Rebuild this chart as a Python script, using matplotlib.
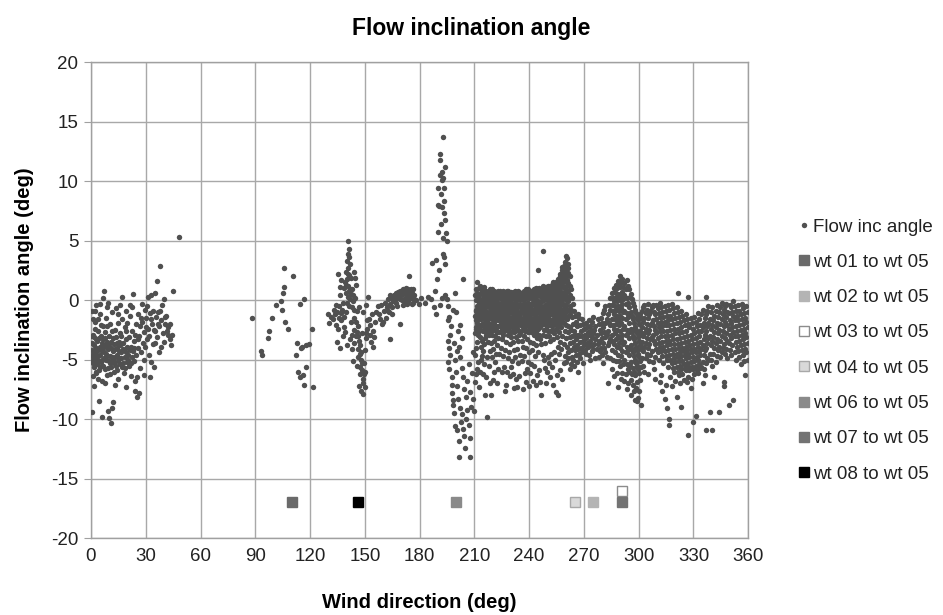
import matplotlib
matplotlib.use('Agg')
import matplotlib.pyplot as plt

plt.rcParams['font.family'] = ['Liberation Sans', 'DejaVu Sans']
plt.rcParams['axes.unicode_minus'] = False

# ---- flow inclination angle readings, (wind direction, angle) ----
north_pts = [
    (0.3, -4.2), (0.5, -5.1), (0.8, -3.6), (1.0, -4.8), (1.2, -2.9), (1.4, -5.6), (1.6, -4.4), (1.9, -3.1),
    (2.1, -5.0), (2.3, -1.8), (2.5, -4.0), (2.8, -6.1), (0.6, -0.9), (1.1, -1.6), (2.0, -2.4), (0.4, -9.4),
    (2.6, -0.4), (1.7, -7.2), (3.1, -4.7), (3.3, -3.4), (3.5, -5.4), (3.8, -2.6), (4.0, -4.1), (4.2, -8.5),
    (4.4, -5.9), (4.7, -3.9), (5.0, -4.6), (5.2, -1.2), (5.4, -3.0), (5.7, -5.2), (5.9, -9.8), (4.9, -0.3),
    (3.6, -6.6), (5.5, -2.1), (6.1, -4.3), (6.3, -5.5), (6.6, -3.3), (6.8, 0.2), (7.0, -4.9), (7.3, 0.8),
    (7.5, -2.7), (7.7, -5.8), (8.0, -3.8), (8.2, -1.5), (8.4, -4.5), (8.7, -6.3), (8.9, -0.6), (6.4, -2.2),
    (7.9, -7.0), (9.1, -9.3), (9.3, -4.1), (9.6, -3.0), (9.8, -5.1), (10.0, -9.9), (10.3, -2.0), (10.5, -4.7),
    (10.8, -10.3), (11.0, -3.5), (11.2, -5.6), (11.5, -9.1), (11.7, -1.0), (12.0, -4.3), (12.2, -8.6),
    (10.6, -6.2), (9.4, -0.2), (12.4, -3.7), (12.7, -5.3), (13.0, -2.5), (13.2, -4.8), (13.5, -0.7),
    (13.8, -3.1), (14.0, -5.9), (14.3, -4.0), (14.6, -1.9), (14.8, -6.6), (15.1, -3.5), (15.4, -4.9),
    (15.7, -2.8), (16.0, -0.4), (13.3, -7.1), (15.9, -5.4), (16.3, -4.4), (16.6, -3.0), (16.9, -5.6),
    (17.2, -1.6), (17.5, -4.1), (17.8, -3.6), (18.1, -6.1), (18.4, -2.3), (18.7, -4.8), (19.0, -0.9),
    (19.3, -3.3), (19.6, -5.2), (19.9, -1.9), (17.0, 0.3), (18.9, -7.3), (20.2, -4.6), (20.6, -3.1),
    (21.0, -5.5), (21.3, -1.3), (21.7, -3.9), (22.0, -6.4), (22.4, -2.6), (22.8, -4.3), (23.1, 0.5),
    (23.5, -3.4), (23.8, -5.1), (24.2, -6.8), (24.6, -2.0), (25.0, -8.1), (24.0, -7.6), (25.3, -6.5),
    (22.6, -0.6), (25.7, -4.0), (26.0, -1.2), (26.4, -3.0), (26.8, -5.7), (27.1, -2.2), (27.5, -4.4),
    (27.9, -0.3), (28.2, -1.8), (28.6, -3.6), (29.0, -5.0), (29.3, -2.7), (29.7, -0.8), (26.2, -7.8),
    (28.8, -6.3), (30.1, -1.5), (30.5, -3.3), (30.9, -0.5), (31.3, -2.4), (31.7, -4.6), (32.1, -1.1),
    (32.5, -6.5), (32.9, 0.4), (33.3, -2.0), (33.7, -3.7), (34.1, -0.9), (34.5, -5.6), (34.9, 0.6),
    (35.3, -2.6), (35.7, -1.4), (31.0, 0.3), (33.0, -5.2), (36.1, 1.6), (36.4, -3.1), (36.8, -1.0),
    (37.2, -2.2), (37.8, 2.9), (38.2, -3.9), (38.6, -1.7), (39.0, -0.4), (39.5, -2.8), (40.0, -3.5),
    (40.6, -2.0), (41.2, -1.3), (41.8, -2.6), (42.4, -2.3), (43.0, -3.3), (43.6, -3.8), (44.2, -2.9),
    (45.0, 0.8), (48.4, 5.3), (37.0, -4.4), (39.8, 0.1),
    (0.2, -3.0), (0.7, -4.6), (1.3, -5.3), (1.8, -3.8), (2.2, -4.5), (2.9, -3.3), (3.4, -4.3), (3.9, -5.0),
    (4.5, -3.2), (4.8, -5.6), (5.3, -4.0), (5.8, -3.6), (6.2, -5.0), (6.9, -3.9), (7.2, -4.4), (7.6, -3.2),
    (8.1, -5.0), (8.6, -3.5), (9.0, -4.7), (9.5, -5.7), (9.9, -3.7), (10.4, -5.3), (10.9, -4.0), (11.4, -4.8),
    (11.9, -3.2), (12.3, -5.0), (12.9, -4.1), (13.6, -5.5), (14.1, -3.6), (14.5, -4.6), (15.0, -5.1),
    (15.6, -4.3), (16.1, -3.8), (16.7, -4.9), (17.3, -5.3), (17.9, -4.2), (18.5, -5.7), (19.1, -4.4),
    (19.7, -3.9), (20.4, -5.0), (21.1, -4.2), (21.8, -5.3), (22.5, -4.8), (23.3, -4.0), (23.9, -2.9),
    (24.4, -4.6), (0.9, -6.4), (3.0, -6.0), (6.0, -6.8), (12.5, -6.0), (2.4, -0.9), (4.1, -1.6), (8.5, -2.2),
    (11.3, -2.6), (14.9, -1.2), (19.4, -2.6), (21.5, -0.4), (25.5, -3.3), (27.3, -1.5), (29.5, -3.9),
    (30.3, -2.3), (31.9, -3.0), (32.7, -1.6), (34.3, -2.5), (35.0, -3.6), (36.5, -2.0), (38.0, -0.9),
    (40.3, -1.4), (42.0, -2.9), (43.3, -2.0),
]

east_pts = [
    (88.0, -1.5), (93.0, -4.3), (93.8, -4.6), (97.5, -2.6), (97.2, -3.2), (99.0, -1.5), (103.8, -0.1),
    (104.5, -0.8), (105.8, 2.7), (105.5, 1.1), (105.3, 0.6), (106.0, -1.8), (108.0, -2.4), (110.9, 2.0),
    (112.6, -3.6), (112.3, -4.6), (113.5, -6.0), (114.2, -6.5), (114.6, -0.3), (115.5, -3.9), (116.0, -6.3),
    (116.4, 0.1), (116.8, -7.1), (117.5, -3.8), (118.0, -5.6), (119.5, -3.7), (121.0, -2.4), (121.5, -7.3),
    (115.0, -4.0), (101.5, -0.4),
]

southeast_pts = [
    (141.0, 5.0), (141.2, 4.3), (140.6, 3.9), (141.5, 3.6), (140.2, 3.3), (141.8, 3.0), (140.9, 2.7),
    (139.6, 2.4), (141.3, 2.1), (140.4, 1.8), (139.2, 1.5), (140.8, 1.2), (141.6, 0.9), (139.9, 0.6),
    (140.5, 0.3), (138.8, 1.0), (142.2, 1.9), (142.6, 0.5), (137.0, 1.7), (136.2, 1.1), (135.5, 2.2),
    (138.0, -0.2), (137.5, -0.8), (136.0, -0.5), (134.8, -1.0), (133.5, -1.2), (132.8, -1.6), (134.0, -2.1),
    (135.2, -2.4), (133.0, -0.8), (131.5, -1.4), (130.6, -1.9), (129.8, -1.2), (136.8, -1.7), (138.6, -2.3),
    (139.5, -1.0), (143.0, -0.6), (143.8, -1.5), (144.5, 1.9), (145.2, 1.3), (144.0, 2.4), (143.3, -0.1),
    (145.8, -0.9), (146.2, -2.2), (145.0, -3.0), (144.2, -3.6), (146.8, -3.4), (147.2, -4.5), (146.5, -4.1),
    (147.8, -5.0), (148.3, -5.9), (147.5, -6.2), (148.8, -6.6), (149.2, -7.0), (148.0, -7.6), (149.6, -5.3),
    (150.2, -4.2), (150.8, -3.2), (151.4, -2.4), (152.0, -1.6), (152.6, -2.9), (153.4, -3.5), (154.2, -2.6),
    (155.0, -3.1), (155.6, -1.8), (149.0, -1.0), (150.4, -0.4), (151.8, 0.3), (148.5, -2.8), (142.8, -4.1),
    (141.9, -3.3), (140.0, -3.8), (137.8, -3.0), (136.5, -4.0), (134.5, -3.5), (143.6, -5.1), (145.5, -5.5),
    (146.9, -7.2), (150.0, -6.0), (156.2, -1.0), (157.0, -0.5), (139.0, -2.7), (144.8, 0.2), (147.0, -0.6),
    (140.7, 2.2), (139.8, 1.3), (141.1, 0.8), (142.0, 0.1), (141.4, -0.5), (140.3, -0.2), (142.9, 0.9),
    (143.6, 0.4), (144.3, -0.8), (145.1, -1.8), (145.9, -2.7), (146.4, -3.0), (147.6, -3.8), (146.0, -4.8),
    (148.1, -4.4), (147.1, -5.6), (148.6, -5.3), (149.4, -6.2), (149.9, -7.3), (148.9, -7.9), (138.3, -1.4),
    (137.2, -1.1), (136.6, 0.4), (135.8, -1.5), (134.2, -0.4), (144.0, -2.5), (142.4, -1.8), (143.1, -2.9),
    (151.1, -1.7), (152.9, -2.1), (153.8, -1.2), (154.6, -3.9), (150.6, -2.8),
]

south_pts = [
    (157.5, -1.2), (158.3, -1.6), (159.2, -2.0), (160.0, -1.8), (158.8, -0.4), (160.5, -0.9), (161.3, -0.2),
    (162.0, -0.6), (162.8, 0.1), (163.5, -0.3), (164.0, -3.3), (164.5, 0.2), (165.2, -0.1), (165.8, 0.4),
    (166.3, 0.0), (166.9, 0.6), (167.4, 0.2), (168.0, 0.7), (168.5, 0.3), (169.0, -2.0), (169.3, 0.8),
    (169.8, 0.4), (170.2, 0.0), (170.7, 0.9), (171.1, 0.5), (171.6, 0.1), (172.0, 0.7), (172.5, 1.0),
    (172.9, 0.3), (173.3, 0.6), (173.8, -0.1), (174.2, 0.8), (174.0, 2.0), (174.7, 0.4), (175.1, 0.9),
    (175.6, 0.2), (176.0, 0.6), (176.5, -0.2), (177.0, 0.4), (167.8, -0.5), (170.9, -0.4), (165.0, -1.2),
    (163.0, -1.0), (178.0, 0.0), (179.5, -0.3), (181.0, 0.2), (161.6, -1.5),
    (166.6, 0.3), (167.1, -0.2), (168.3, 0.5), (169.5, 0.1), (170.4, 0.6), (171.3, 0.8), (171.9, -0.2),
    (172.7, 0.5), (173.5, 0.9), (174.4, 0.1), (175.3, 0.5), (176.2, 0.9), (176.8, 0.1), (175.8, -0.3),
    (173.0, -0.3), (164.8, -0.6), (163.8, 0.4), (162.4, -0.9),
]

peak_pts = [
    (193.0, 13.7), (191.0, 12.3), (191.4, 11.8), (192.2, 10.8), (192.8, 10.3), (190.0, 9.4), (192.5, 10.1),
    (193.2, 9.4), (189.8, 8.0), (190.8, 7.9), (192.0, 7.8), (193.6, 8.3), (193.4, 7.3), (194.0, 6.7),
    (190.2, 5.7), (194.6, 5.6), (194.9, 5.0), (192.6, 3.9), (193.1, 3.6), (194.0, 3.0), (189.0, 3.4),
    (190.6, 2.5), (189.6, 1.8), (188.5, 0.8), (187.0, 3.1), (204.0, 1.8), (191.5, 6.4), (192.9, 5.2),
    (191.8, 8.9), (193.8, 11.2), (190.9, 10.5), (186.0, 0.1), (184.5, 0.3), (183.0, -0.2), (187.8, -0.6),
    (189.0, -1.2), (191.0, -0.4), (192.5, 0.2), (194.0, 0.4), (195.0, 0.1), (195.6, -0.5), (196.2, -1.4),
    (195.8, -1.7), (196.5, -2.9), (195.4, -3.4), (196.0, -4.0), (196.8, -4.6), (195.7, -5.2), (196.3, -5.8),
    (197.5, -6.5), (198.0, -7.1), (197.8, -7.8), (198.5, -8.4), (198.2, -8.8), (199.0, -9.5), (199.5, -10.6),
    (200.3, -10.9), (201.8, -11.8), (201.6, -13.2), (197.2, -2.2), (198.8, -3.6), (199.4, -5.0), (200.0, -6.0),
    (200.6, -7.2), (201.2, -8.3), (201.9, -9.1), (202.5, -10.2), (203.1, -9.6), (203.8, -10.8), (204.5, -11.4),
    (205.0, -12.4), (205.6, -10.0), (206.2, -9.2), (206.9, -10.5), (207.4, -11.6), (207.8, -13.2), (208.3, -9.0),
    (209.2, -8.3), (210.0, -9.3), (217.0, -9.8), (199.8, -1.0), (200.8, -2.6), (201.5, -3.9), (202.3, -4.8),
    (203.0, -5.7), (203.7, -6.5), (204.3, -7.5), (205.2, -8.1), (206.0, -6.8), (206.8, -5.4), (207.5, -7.7),
    (208.6, -6.1), (209.5, -4.4), (198.4, -0.8), (199.2, 0.6), (200.5, -4.3), (202.0, -2.1), (203.4, -3.2),
]

# columns: (wind direction, [angles read at that direction])
west_cols = [
    (210.5, [0.4, -1.3, -2.8, -4.6, -6.9]), (211.6, [1.5, -0.5, -1.9, -3.5, -5.8]),
    (212.4, [1.0, -0.2, -1.1, -2.4, -7.3]), (213.5, [0.6, -0.8, -2.1, -3.9, -5.0]),
    (214.7, [0.2, -1.5, -2.6, -4.3, -6.2]), (215.8, [0.7, -0.4, -1.8, -3.2, -8.0]),
    (216.9, [0.3, -1.0, -2.3, -4.8]), (218.0, [0.8, -0.1, -1.4, -2.9, -5.5]),
    (219.1, [0.5, -0.7, -2.0, -3.6, -8.0]), (220.3, [0.1, -1.2, -2.5, -4.1, -6.7]),
    (221.4, [0.6, -0.3, -1.7, -3.0, -5.2]), (222.6, [0.4, -0.9, -2.2, -3.8, -7.0]),
    (223.7, [0.7, -0.6, -1.5, -2.7, -4.5]), (224.9, [0.2, -1.1, -2.4, -3.3, -6.0]),
    (226.0, [0.5, -0.2, -1.3, -2.6, -5.6]), (227.2, [0.3, -0.8, -1.9, -3.5, -7.1]),
    (228.3, [0.6, -0.4, -1.6, -2.9, -4.9]), (229.5, [0.1, -1.0, -2.1, -3.7, -6.4]),
    (230.6, [0.4, -0.5, -1.4, -2.3, -5.1]), (231.8, [-0.2, -1.2, -2.7, -4.2, -7.4]),
    (232.9, [0.5, -0.7, -1.8, -3.1, -6.6]), (234.1, [0.2, -1.0, -2.0, -3.4, -5.3]),
    (235.2, [0.6, -0.3, -1.6, -2.8, -4.6]), (236.4, [0.0, -1.1, -2.5, -3.9, -7.5]),
    (237.5, [0.4, -0.6, -1.3, -2.6, -6.1]), (238.7, [0.7, -0.2, -1.7, -3.3, -5.8]),
    (239.8, [0.3, -0.9, -2.2, -4.4, -7.2]), (241.0, [0.8, -0.4, -1.5, -2.7, -5.4]),
    (242.1, [0.5, -0.8, -2.0, -3.6, -6.8]), (243.3, [0.9, -0.1, -1.2, -2.4, -4.7]),
    (244.4, [0.6, -0.6, -1.8, -3.2, -6.3]), (245.0, [2.5]),
    (245.6, [1.0, -0.3, -1.4, -2.9, -5.9]), (246.7, [0.7, -0.7, -2.1, -3.7, -8.0]),
    (247.8, [4.1]), (247.9, [1.1, 0.2, -1.0, -2.5, -5.0]),
    (249.0, [0.8, -0.5, -1.6, -3.0, -7.0]), (250.2, [1.2, 0.0, -1.3, -2.6, -4.8]),
    (251.3, [0.9, -0.4, -1.9, -3.4, -6.5]), (252.5, [1.3, 0.3, -0.9, -2.2, -5.6]),
    (253.6, [1.0, -0.2, -1.5, -2.8, -4.4]), (254.8, [1.5, 0.4, -0.8, -2.4, -7.7]),
    (255.9, [1.8, 0.6, -0.6, -2.0, -3.9, -8.0]), (257.1, [2.2, 1.0, -0.3, -1.7, -3.5, -5.9]),
    (258.2, [2.8, 1.4, 0.1, -1.3, -3.0, -6.6]), (259.4, [3.2, 1.9, 0.5, -1.0, -2.6, -4.7]),
    (260.1, [3.7, 2.5, 1.1, -0.4, -2.1, -5.2]), (260.6, [3.5, 1.7, 0.3, -1.6, -3.9]),
    (261.5, [2.3, 0.8, -0.8, -2.7, -4.4]), (262.6, [1.2, -0.5, -2.3, -3.6, -5.8]),
    (263.6, [0.2, -1.4, -3.0, -4.8]), (264.7, [-0.9, -2.6, -3.9, -5.5]),
    (265.8, [-1.8, -3.3, -4.6]), (266.9, [-1.2, -2.9, -4.1, -6.0]),
    (268.0, [-2.1, -3.5, -4.9]), (269.1, [-1.6, -3.0, -4.4]),
    (270.2, [-2.4, -3.8]), (271.3, [-1.9, -3.2, -4.5]),
    (272.4, [-2.7, -3.9]), (273.5, [-2.2, -3.4, -5.0]),
    (274.6, [-1.8, -3.1, -4.3]), (275.7, [-2.5, -3.7]),
    (277.0, [-0.3, -2.9, -4.1]), (278.2, [-2.0, -3.4, -4.8]),
    (279.4, [-1.5, -2.8, -4.0]), (280.6, [-1.1, -2.3, -3.6, -5.3]),
    (281.8, [-0.5, -1.9, -3.1, -4.4]), (283.0, [-7.0, -1.2, -2.6, -3.8]),
    (284.2, [0.2, -0.8, -2.1, -3.3, -4.9]),
    (211.0, [0.9, -0.8, -2.3, -4.0, -6.2]), (212.0, [0.2, -1.5, -2.9, -5.2]),
    (213.0, [1.2, -0.4, -1.6, -3.1, -6.0]), (214.1, [0.9, -0.3, -1.2, -3.4, -4.7]),
    (215.2, [1.1, -0.9, -2.2, -3.7, -5.4]), (216.3, [0.0, -1.4, -2.7, -6.5]),
    (217.4, [0.6, -0.5, -1.9, -3.5]), (218.5, [0.3, -1.0, -2.4, -4.3, -7.0]),
    (219.7, [0.9, -0.2, -1.6, -2.9, -4.8]), (220.8, [0.4, -0.8, -2.0, -3.4, -6.0]),
    (222.0, [0.0, -1.4, -2.6, -4.5]), (223.1, [0.8, -0.2, -1.2, -3.2, -5.8]),
    (224.3, [0.4, -0.9, -2.0, -4.0]), (225.4, [0.8, -0.5, -1.7, -2.9, -4.7]),
    (226.6, [0.1, -1.0, -2.2, -4.2, -7.6]), (227.7, [0.8, -0.3, -1.3, -2.5, -6.0]),
    (228.9, [0.4, -0.7, -2.3, -4.4]), (230.0, [0.7, -0.2, -1.8, -3.1, -5.6]),
    (231.2, [0.2, -0.9, -1.9, -3.5, -6.2]), (232.3, [0.8, -0.4, -1.5, -2.6, -4.8]),
    (233.5, [0.0, -1.3, -2.4, -4.1, -7.3]), (234.6, [0.7, -0.5, -1.4, -2.9, -6.4]),
    (235.8, [0.3, -0.8, -2.1, -3.4, -5.1]), (236.9, [0.8, -0.3, -1.8, -3.0, -4.7]),
    (238.1, [0.2, -0.9, -2.2, -4.0, -6.9]), (239.2, [0.9, -0.4, -1.3, -2.7, -5.2]),
    (240.4, [0.5, -0.7, -1.9, -3.5, -6.1]), (241.5, [0.2, -1.1, -2.4, -4.2]),
    (242.7, [0.9, -0.3, -1.5, -2.9, -5.5]), (243.8, [0.3, -0.9, -2.1, -3.8, -7.1]),
    (245.0, [0.8, -0.1, -1.0, -2.4, -4.4]), (246.1, [0.4, -1.0, -1.7, -3.3, -6.9]),
    (247.3, [1.2, 0.1, -1.3, -2.9, -4.6]), (248.4, [0.5, -0.8, -2.0, -3.6, -5.7]),
    (249.6, [1.0, 0.3, -0.9, -2.2, -6.0]), (250.7, [0.6, -0.7, -1.6, -3.0, -5.3]),
    (251.9, [1.1, 0.1, -1.2, -2.6, -4.5]), (253.0, [0.7, -0.5, -1.9, -3.3, -7.1]),
    (254.2, [1.3, 0.1, -1.1, -2.0, -5.0]), (255.3, [0.9, -0.2, -1.4, -3.1, -6.3]),
    (256.5, [1.4, 0.3, -1.0, -2.7, -4.5]), (257.6, [1.8, 0.6, -0.8, -2.3, -4.1]),
    (258.8, [2.3, 1.1, -0.4, -1.9, -3.7, -5.3]), (259.9, [2.9, 1.5, 0.0, -1.5, -3.2]),
    (261.0, [3.0, 1.3, -0.1, -2.2, -4.9]), (262.1, [2.0, 0.4, -1.2, -3.1]),
    (263.1, [0.9, -0.8, -2.5, -4.2, -5.4]), (264.2, [-0.3, -2.0, -3.5, -5.0]),
    (265.3, [-1.3, -2.9, -4.2]), (266.4, [-2.2, -3.8, -5.2]),
    (267.5, [-1.5, -3.0, -4.5]), (268.6, [-2.6, -4.0]),
    (269.7, [-2.0, -3.4, -5.3]), (270.8, [-2.9, -4.2]),
    (271.9, [-2.3, -3.6]), (273.0, [-1.7, -2.9, -4.6]),
    (274.1, [-2.5, -3.8]), (275.2, [-1.4, -2.8, -4.1]),
    (276.3, [-2.2, -3.3, -4.9]), (277.6, [-1.6, -3.7]),
    (278.8, [-2.5, -4.3]), (280.0, [-1.9, -3.2, -4.6]),
    (281.2, [-0.8, -2.7, -4.0]), (282.4, [-1.6, -2.9, -4.8]),
    (283.6, [-0.4, -1.9, -3.5]),
]

# densest part of the 210-262 deg block
west_core_cols = [
    (210.8, [0.0, -0.9, -1.7, -2.4]), (211.3, [0.6, -1.2, -2.6]), (211.9, [0.3, -0.9, -2.1]),
    (212.7, [0.5, -0.6, -1.5, -2.6]), (213.2, [0.0, -1.3, -2.4]), (213.8, [0.9, -0.3, -1.6]),
    (214.4, [0.5, -0.9, -2.0]), (215.0, [0.0, -1.1, -2.5]), (215.5, [0.6, -0.6, -1.4]),
    (216.1, [0.4, -1.0, -2.2]), (216.6, [0.8, -0.6, -1.7, -2.9]), (217.2, [0.1, -1.2, -2.5]),
    (217.7, [0.5, -0.3, -1.6]), (218.3, [0.9, -0.7, -2.0]), (218.8, [0.2, -1.2, -2.6]),
    (219.4, [0.7, -0.4, -1.4]), (219.9, [0.4, -1.0, -2.3]), (220.5, [0.8, -0.5, -1.8]),
    (221.1, [0.2, -1.0, -2.2]), (221.7, [0.7, -0.6, -1.4, -2.5]), (222.3, [0.1, -1.3, -2.7]),
    (222.9, [0.6, -0.4, -1.7]), (223.4, [0.3, -0.9, -2.2]), (224.0, [0.8, -0.3, -1.5]),
    (224.6, [0.5, -0.7, -1.9]), (225.1, [0.0, -1.3, -2.7]), (225.7, [0.6, -0.8, -1.6]),
    (226.3, [0.3, -1.0, -2.2]), (226.9, [0.7, -0.5, -1.4]), (227.5, [0.1, -1.1, -2.4]),
    (228.0, [0.5, -0.7, -1.8]), (228.6, [0.8, -0.2, -1.3, -2.5]), (229.2, [0.3, -0.8, -1.8]),
    (229.8, [0.6, -0.5, -1.5, -2.7]), (230.3, [0.1, -1.0, -2.0]), (230.9, [0.5, -0.8, -1.7]),
    (231.5, [0.7, -0.4, -1.5, -2.5]), (232.1, [0.2, -0.9, -2.1]), (232.6, [0.6, -0.3, -1.4]),
    (233.2, [0.3, -1.0, -2.2]), (233.8, [0.8, -0.6, -1.6]), (234.4, [0.4, -0.4, -1.3, -2.6]),
    (234.9, [0.1, -1.1, -2.0]), (235.5, [0.6, -0.6, -1.8]), (236.1, [0.4, -0.9, -2.2]),
    (236.7, [0.6, -0.5, -1.5]), (237.2, [0.1, -1.0, -2.4]), (237.8, [0.5, -0.3, -1.6]),
    (238.4, [0.9, -0.6, -2.0]), (239.0, [0.4, -1.1, -2.6]), (239.5, [0.6, -0.2, -1.5]),
    (240.1, [0.2, -0.8, -1.9]), (240.7, [0.7, -0.4, -1.2, -2.4]), (241.3, [0.4, -0.9, -2.0]),
    (241.8, [0.8, -0.2, -1.6]), (242.4, [0.2, -1.1, -2.4]), (243.0, [0.6, -0.5, -1.7]),
    (243.6, [1.0, -0.3, -1.4, -2.7]), (244.1, [0.4, -0.9, -2.1]), (244.7, [0.9, -0.2, -1.5]),
    (245.3, [0.5, -0.8, -1.9]), (245.9, [0.8, -0.4, -1.1, -2.3]), (246.4, [0.3, -0.9, -1.8]),
    (247.0, [0.9, -0.1, -1.5]), (247.6, [0.6, -0.6, -2.0]), (248.1, [1.0, 0.0, -1.2]),
    (248.7, [0.5, -0.4, -1.7]), (249.3, [1.1, 0.1, -1.1, -2.4]), (249.9, [0.7, -0.7, -1.9]),
    (250.4, [1.0, -0.2, -1.4]), (251.0, [0.6, -0.5, -2.1]), (251.6, [1.2, 0.2, -1.0]),
    (252.2, [0.8, -0.3, -1.7]), (252.7, [1.1, 0.0, -1.2, -2.5]), (253.3, [1.5, 0.5, -0.8]),
    (253.9, [0.8, -0.5, -1.8]), (254.5, [1.3, 0.1, -1.3]), (255.0, [1.0, -0.3, -1.7]),
    (255.6, [1.6, 0.4, -0.9, -2.3]), (256.2, [1.2, 0.0, -1.3]), (256.8, [2.0, 0.8, -0.5, -1.9]),
    (257.3, [1.5, 0.3, -1.1]), (257.9, [2.5, 1.2, -0.2, -1.6]), (258.5, [1.9, 0.6, -0.8]),
    (259.0, [2.9, 1.6, 0.2, -1.2]), (259.7, [2.2, 0.9, -0.6]), (260.4, [3.1, 2.0, 0.7, -0.9]),
    (261.2, [2.7, 1.4, 0.0, -1.3]),
]

northwest_cols = [
    (285.5, [0.6, -0.4, -1.6, -2.9, -4.2, -5.8]), (286.6, [1.0, -0.1, -1.2, -2.4, -3.7, -6.4]),
    (287.7, [1.3, 0.3, -0.8, -2.0, -3.3, -5.1]), (288.8, [1.6, 0.5, -0.5, -1.7, -3.0, -4.6, -7.3]),
    (290.0, [2.0, 1.1, 0.0, -1.3, -2.6, -4.0, -5.5]), (291.1, [1.8, 0.7, -0.3, -1.5, -2.9, -4.3, -6.1]),
    (292.2, [1.4, 0.4, -0.9, -2.2, -3.5, -5.0, -6.8]), (293.4, [1.7, 0.2, -1.1, -2.5, -3.9, -5.4, -7.5]),
    (294.5, [0.9, -0.6, -1.9, -3.2, -4.6, -6.0]), (295.6, [0.5, -1.0, -2.4, -3.8, -5.2, -6.7, -8.0]),
    (296.7, [-0.2, -1.6, -3.0, -4.4, -5.7, -7.1]), (297.9, [-0.8, -2.3, -3.6, -5.0, -6.3, -8.4]),
    (299.0, [-1.4, -2.8, -4.2, -5.5, -6.9, -8.5]), (300.1, [-2.0, -3.4, -4.8, -6.1, -7.6]),
    (301.3, [-1.5, -2.9, -4.1, -5.6, -8.8]), (302.5, [-0.6, -1.8, -3.0, -4.3, -5.5]),
    (303.8, [-1.1, -2.4, -3.6, -4.9]), (305.1, [-0.3, -1.5, -2.8, -4.0, -6.2]),
    (306.4, [-0.9, -2.1, -3.3, -4.6]), (307.7, [-0.4, -1.7, -2.9, -5.2]),
    (309.0, [-1.2, -2.5, -3.7, -4.8, -6.6]), (310.3, [-0.7, -1.9, -3.2, -4.4]),
    (311.6, [-0.2, -1.4, -2.6, -3.9, -6.9]), (312.9, [-1.0, -2.2, -3.5, -4.7, -7.6]),
    (314.2, [-0.5, -1.8, -3.0, -4.3, -8.3]), (315.5, [-1.3, -2.6, -3.8, -5.0, -9.1]),
    (316.8, [-0.8, -2.1, -3.4, -4.6, -10.0, -10.5]), (318.1, [-0.3, -1.6, -2.9, -4.1, -5.3, -7.2]),
    (319.4, [-1.1, -2.4, -3.7, -4.9, -6.0]), (320.7, [-0.6, -1.9, -3.3, -4.5, -5.6, -8.1]),
    (321.5, [0.6]), (322.0, [-1.4, -2.8, -4.0, -5.1, -6.3]),
    (323.3, [-0.9, -2.3, -3.6, -4.7, -5.8, -9.0]), (324.6, [-1.7, -3.1, -4.3, -5.4, -6.7]),
    (325.9, [-1.2, -2.6, -3.9, -4.9, -5.9]), (327.0, [0.3, -11.3]),
    (327.2, [-2.0, -3.4, -4.5, -5.5, -6.5]), (328.5, [-1.5, -2.9, -4.1, -5.2, -7.4]),
    (329.8, [-2.4, -3.7, -4.8, -5.8, -10.2]), (331.1, [-1.8, -3.2, -4.4, -5.5, -9.7]),
    (332.4, [-1.1, -2.6, -3.9, -5.0, -6.1]), (333.7, [-2.1, -3.5, -4.6, -5.7]),
    (335.0, [-0.8, -2.3, -3.8, -5.2, -7.0]), (336.3, [-1.5, -2.9, -4.2, -6.3]),
    (337.0, [0.3, -10.9]), (337.6, [-0.9, -2.2, -3.6, -4.9]),
    (338.9, [-1.6, -3.0, -4.5, -9.4]), (340.0, [-10.9]),
    (340.2, [-0.6, -2.1, -3.4, -5.5]), (341.5, [-1.3, -2.7, -4.0, -6.5]),
    (342.8, [-0.4, -1.9, -3.3, -4.7]), (344.1, [-1.0, -2.5, -3.9, -9.4]),
    (345.4, [-0.2, -1.6, -3.0, -4.4]), (346.7, [-0.8, -2.2, -3.7, -6.9, -7.2]),
    (348.0, [-0.3, -1.4, -2.8, -4.1]), (349.3, [-1.1, -2.4, -3.6, -8.8]),
    (350.6, [-0.6, -1.9, -3.2, -4.6]), (351.9, [-0.1, -1.3, -2.7, -8.4]),
    (353.2, [-0.9, -2.2, -3.5, -5.0]), (354.5, [-0.4, -1.7, -3.0, -4.3]),
    (355.8, [-1.2, -2.5, -3.8, -5.4]), (357.1, [-0.7, -2.0, -3.3, -4.6]),
    (358.4, [-1.5, -2.8, -4.1, -6.3]), (359.6, [-1.0, -2.3, -3.6, -5.0]),
    (286.0, [0.2, -0.9, -2.1, -3.4, -5.0]), (287.1, [0.7, -0.5, -1.6, -2.8, -4.4]),
    (288.2, [1.0, -0.1, -1.3, -2.5, -3.9, -6.1]), (289.4, [1.3, 0.2, -0.9, -2.1, -3.6, -5.1]),
    (290.5, [1.5, 0.4, -0.7, -1.9, -3.3, -4.7, -6.6]), (291.6, [1.1, 0.1, -1.0, -2.4, -3.7, -5.4]),
    (292.8, [0.9, -0.3, -1.6, -2.9, -4.4, -6.2]), (293.9, [1.2, -0.2, -1.4, -2.8, -4.2, -5.8, -7.0]),
    (295.0, [0.3, -1.2, -2.6, -4.0, -5.5]), (296.1, [0.1, -1.3, -2.7, -4.1, -6.2]),
    (297.3, [-0.5, -1.9, -3.3, -4.7, -6.0, -7.6]), (298.4, [-1.1, -2.5, -3.9, -5.3, -7.4]),
    (299.5, [-1.7, -3.1, -4.5, -5.8, -8.2]), (300.7, [-1.2, -2.6, -3.8, -5.1, -6.7]),
    (301.9, [-0.9, -2.3, -3.5, -4.9]), (303.1, [-0.4, -1.5, -2.8, -3.9, -6.0]),
    (304.4, [-0.8, -2.0, -3.2, -4.5]), (305.7, [-1.2, -2.5, -3.7, -5.1]),
    (307.0, [-0.6, -1.9, -3.1, -4.3]), (308.3, [-1.0, -2.2, -3.4, -5.8]),
    (309.6, [-0.4, -1.6, -2.8, -4.1]), (310.9, [-1.1, -2.3, -3.6, -5.0]),
    (312.2, [-0.6, -1.8, -3.0, -4.3, -6.3]), (313.5, [-1.4, -2.6, -3.9, -5.3]),
    (314.8, [-0.9, -2.1, -3.4, -4.7, -7.1]), (316.1, [-0.4, -1.7, -3.0, -4.2, -5.6]),
    (317.4, [-1.3, -2.5, -3.7, -5.0, -6.5]), (318.7, [-0.7, -2.0, -3.3, -4.5, -5.7]),
    (320.0, [-1.5, -2.8, -4.1, -5.2, -6.8]), (321.3, [-1.0, -2.4, -3.7, -4.8, -6.0]),
    (322.6, [-1.8, -3.2, -4.4, -5.5, -7.0]), (323.9, [-1.3, -2.7, -4.0, -5.1, -6.2]),
    (325.2, [-2.1, -3.5, -4.6, -5.7]), (326.5, [-1.6, -3.0, -4.2, -5.3, -6.9]),
    (327.8, [-2.3, -3.8, -4.8, -5.9]), (329.1, [-1.9, -3.3, -4.4, -5.6, -6.6]),
    (330.4, [-1.4, -2.8, -4.1, -5.1, -6.2]), (331.7, [-2.2, -3.6, -4.8, -5.9]),
    (333.0, [-1.6, -3.0, -4.3, -5.4]), (334.3, [-1.2, -2.6, -4.1, -5.6]),
    (335.6, [-1.9, -3.3, -4.6, -5.8]), (336.9, [-1.2, -2.6, -4.0, -5.3]),
    (338.2, [-0.5, -1.9, -3.2, -5.0]), (339.5, [-1.0, -2.4, -3.8, -5.0]),
    (340.9, [-1.7, -3.1, -4.5]), (342.1, [-0.9, -2.3, -3.6, -5.2]),
    (343.4, [-1.4, -2.8, -4.2]), (344.7, [-0.6, -2.0, -3.4, -4.8]),
    (346.0, [-1.2, -2.6, -4.0]), (347.3, [-0.5, -1.8, -3.2, -4.5]),
    (348.6, [-1.0, -2.1, -3.4, -4.9]), (349.9, [-0.4, -1.7, -2.9, -4.2]),
    (351.2, [-1.0, -2.3, -3.8]), (352.5, [-0.5, -1.7, -3.0, -4.4]),
    (353.8, [-1.3, -2.6, -3.9]), (355.1, [-0.9, -2.1, -3.4, -4.8]),
    (356.4, [-0.3, -1.6, -2.9, -4.2]), (357.7, [-1.1, -2.4, -3.7, -5.1]),
    (359.0, [-0.5, -1.8, -3.1, -4.4]),
]

# ---- turbine wake sectors (direction, marker level) ----
wake_labels = ['wt 01 to wt 05', 'wt 02 to wt 05', 'wt 03 to wt 05', 'wt 04 to wt 05',
               'wt 06 to wt 05', 'wt 07 to wt 05', 'wt 08 to wt 05']
wake_dir = [110, 275, 291, 265, 200, 291, 146]
wake_level = [-17, -17, -16, -17, -17, -17, -17]
wake_fill = ['#6a6a6a', '#b4b4b4', '#ffffff', '#d9d9d9', '#8a8a8a', '#737373', '#000000']
wake_edge = ['#6a6a6a', '#b4b4b4', '#8c8c8c', '#a8a8a8', '#8a8a8a', '#737373', '#000000']

wd = []
ang = []
for pts in [north_pts, east_pts, southeast_pts, south_pts, peak_pts]:
    for p in pts:
        wd.append(p[0])
        ang.append(p[1])
for cols in [west_cols, west_core_cols, northwest_cols]:
    for x, ys in cols:
        for y in ys:
            wd.append(x)
            ang.append(y)

fig = plt.figure(figsize=(9.43, 6.15), dpi=100)
ax = fig.add_axes([0.0965, 0.125, 0.697, 0.774])

ax.plot(wd, ang, 'o', ms=3.9, color='#505050', mec='none', label='Flow inc angle', zorder=3)
for i in range(len(wake_labels)):
    ax.plot([wake_dir[i]], [wake_level[i]], 's', ms=6.5, mfc=wake_fill[i], mec=wake_edge[i],
            mew=1.0, label=wake_labels[i], zorder=4)

ax.set_xlim(0, 360)
ax.set_ylim(-20, 20)
ax.set_xticks(range(0, 361, 30))
ax.set_yticks(range(-20, 21, 5))
ax.grid(True, color='#a8a8a8', lw=1.0)
ax.set_axisbelow(True)
for s in ax.spines.values():
    s.set_color('#a0a0a0')
    s.set_linewidth(1.0)
ax.tick_params(axis='x', length=0, pad=7, labelsize=13.5, colors='#222222')
ax.tick_params(axis='y', length=5, color='#a0a0a0', pad=4, labelsize=13.5, labelcolor='#222222')

ax.set_xlabel('Wind direction (deg)', fontsize=14.5, fontweight='bold', labelpad=20)
ax.set_ylabel('Flow inclination angle (deg)', fontsize=14.5, fontweight='bold', labelpad=12)
fig.suptitle('Flow inclination angle', x=0.5, y=0.972, fontsize=16.5, fontweight='bold')

leg = ax.legend(loc='center left', bbox_to_anchor=(1.066, 0.394), frameon=False, fontsize=13.5,
                handlelength=0.5, handletextpad=0.25, labelspacing=0.97, borderaxespad=0)
for t in leg.get_texts():
    t.set_color('#222222')

fig.savefig('out.png', dpi=100)
